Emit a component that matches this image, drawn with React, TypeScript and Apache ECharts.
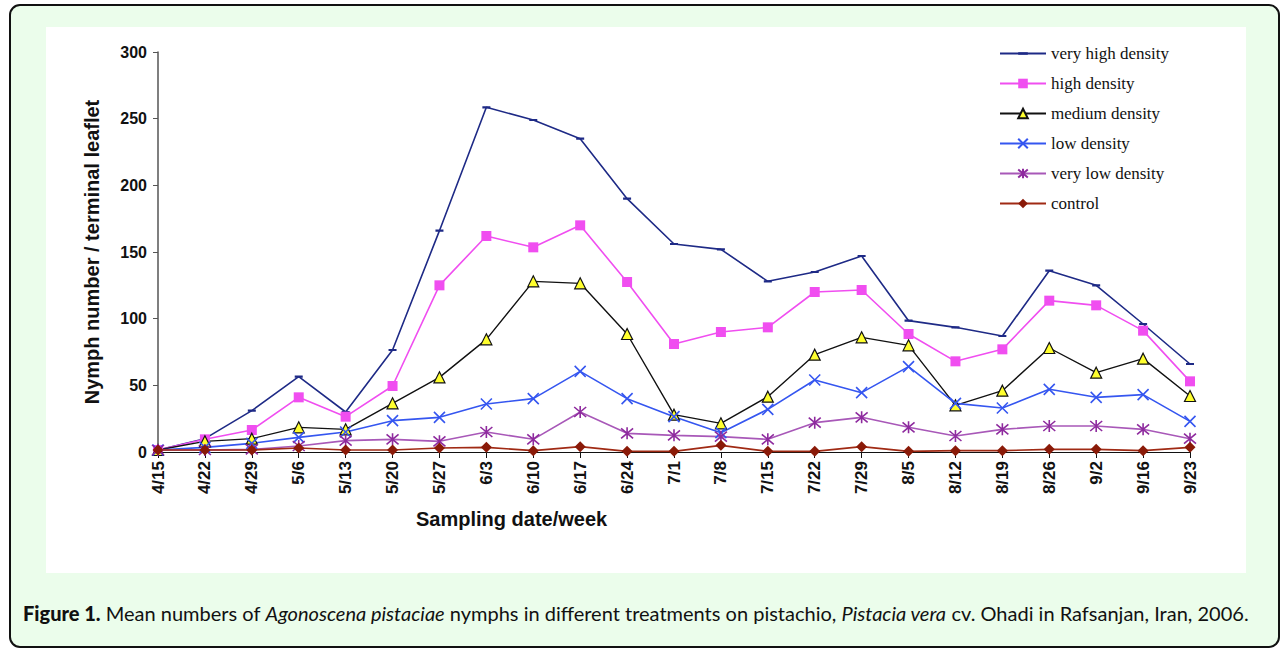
import React, { useEffect, useRef } from "react";
import * as echarts from "echarts";

const dates = ["4/15","4/22","4/29","5/6","5/13","5/20","5/27","6/3","6/10","6/17","6/24","7/1","7/8","7/15","7/22","7/29","8/5","8/12","8/19","8/26","9/2","9/16","9/23"];
const seriesNames = ["very high density","high density","medium density","low density","very low density","control"];
const veryHigh = [1.5, 10, 31, 56.5, 30, 76.5, 166, 258.5, 249, 235, 190, 156, 152, 128, 135, 147, 98.5, 93.5, 87, 136, 125, 96, 66];
const high = [1.5, 9.5, 16.5, 41, 26.5, 49.5, 125, 162, 153.5, 170, 127.5, 81, 90, 93.5, 120, 121.5, 88.5, 68, 77, 113.5, 110, 91, 53];
const medium = [1.5, 8, 10, 18.5, 17, 36.5, 56, 84.5, 128, 126.5, 88.5, 28, 21.5, 41.5, 73, 86, 80, 35, 46, 78, 59.5, 70, 42];
const low = [1.5, 3.5, 6.5, 11, 15, 23.5, 26, 36, 40, 60.5, 40, 26.5, 14.5, 32, 54, 44.5, 64, 36.5, 33, 47, 41, 43, 23];
const veryLow = [1.5, 1.5, 2, 4.5, 8.5, 9.5, 8, 15, 9.5, 30, 14, 12.5, 11.5, 9.5, 22, 26, 18.5, 12, 17, 19.5, 19.5, 17, 10];
const control = [1.5, 1.5, 1.5, 3, 1.5, 1.5, 3, 3.5, 1, 4, 0.5, 0.5, 5, 0.5, 0.5, 4, 0.5, 1, 1, 2, 2, 1, 3.5];
const yTicks = [0, 50, 100, 150, 200, 250, 300];

const SANS = "'Liberation Sans', Arial, sans-serif";
const SERIF = "'Liberation Serif', 'Times New Roman', serif";
const CAP = "Lato, 'Open Sans', sans-serif";

const DASH = "path://M0,0L0.01,0M0,3.6h10v2.8h-10zM10,10L9.99,10";
const CROSS = "path://M0,0L10,10M10,0L0,10";
const STAR = "path://M0,0L10,10M10,0L0,10M5,-1L5,11";

export default function App() {
  const ref = useRef<HTMLDivElement>(null);
  useEffect(() => {
    if (!ref.current) return;
    const chart = echarts.init(ref.current, undefined, { renderer: "svg" });
    const base = { type: "line", animation: false, smooth: false };
    chart.setOption({
      animation: false,
      backgroundColor: "#ffffff",
      grid: { left: 158, right: 91, top: 52, bottom: 198, containLabel: false },
      legend: {
        orient: "vertical",
        left: 994,
        top: 40,
        itemWidth: 46,
        itemHeight: 12,
        itemGap: 13,
        data: seriesNames,
        textStyle: { fontFamily: SERIF, fontSize: 17, color: "#111" },
      },
      xAxis: {
        type: "category",
        data: dates,
        boundaryGap: false,
        axisLine: { show: true, lineStyle: { color: "#111", width: 1.2 } },
        axisTick: { show: true, length: 6, interval: 0, lineStyle: { color: "#111" } },
        axisLabel: {
          interval: 0,
          rotate: 90,
          margin: 9,
          fontFamily: SANS,
          fontWeight: "bold",
          fontSize: 17,
          color: "#111",
        },
      },
      yAxis: {
        type: "value",
        min: yTicks[0],
        max: yTicks[yTicks.length - 1],
        interval: 50,
        name: "Nymph number / terminal leaflet",
        nameLocation: "middle",
        nameGap: 56,
        nameTextStyle: { fontFamily: SANS, fontWeight: "bold", fontSize: 20, color: "#111" },
        axisLine: { show: true, lineStyle: { color: "#555", width: 1.5 } },
        axisTick: { show: true, length: 5, lineStyle: { color: "#555" } },
        splitLine: { show: false },
        axisLabel: { margin: 11, fontFamily: SANS, fontWeight: "bold", fontSize: 16, color: "#111" },
      },
      graphic: [
        {
          type: "rect", z: -10, silent: true,
          shape: { x: 10, y: 5, width: 1269, height: 642, r: 10 },
          style: { fill: "#ebfdeb", stroke: "#111", lineWidth: 2 },
        },
        {
          type: "rect", z: -9, silent: true,
          shape: { x: 46, y: 27, width: 1200, height: 546 },
          style: { fill: "#ffffff" },
        },
        {
          type: "text", left: 416, top: 509,
          style: { text: "Sampling date/week", fontFamily: SANS, fontWeight: "bold", fontSize: 20, fill: "#111" },
        },
        {
          type: "text", left: 23, top: 603,
          style: {
            text: "{b|Figure 1.}{r| Mean numbers of }{i|Agonoscena pistaciae}{r| nymphs in different treatments on pistachio, }{i|Pistacia vera}{r| cv. Ohadi in Rafsanjan, Iran, 2006.}",
            fill: "#111",
            rich: {
              b: { fontFamily: CAP, fontWeight: 900, fontSize: 20, fill: "#111" },
              r: { fontFamily: CAP, fontSize: 20, fill: "#111" },
              i: { fontFamily: CAP, fontStyle: "italic", fontSize: 20, fill: "#111" },
            },
          },
        },
      ],
      series: [
        {
          ...base, name: seriesNames[0], data: veryHigh,
          symbol: DASH, symbolSize: 8,
          itemStyle: { color: "#1e2a86" },
          lineStyle: { color: "#1e2a86", width: 1.6 },
        },
        {
          ...base, name: seriesNames[1], data: high,
          symbol: "rect", symbolSize: 10,
          itemStyle: { color: "#f04ef0" },
          lineStyle: { color: "#f04ef0", width: 1.6 },
        },
        {
          ...base, name: seriesNames[2], data: medium,
          symbol: "triangle", symbolSize: 11,
          itemStyle: { color: "#ffff2e", borderColor: "#111", borderWidth: 1.2 },
          lineStyle: { color: "#111", width: 1.4 },
        },
        {
          ...base, name: seriesNames[3], data: low,
          symbol: CROSS, symbolSize: 11,
          itemStyle: { color: "#3556f0", borderColor: "#3556f0", borderWidth: 1.6 },
          lineStyle: { color: "#3556f0", width: 1.6 },
        },
        {
          ...base, name: seriesNames[4], data: veryLow,
          symbol: STAR, symbolSize: 12,
          itemStyle: { color: "#8e2a9e", borderColor: "#8e2a9e", borderWidth: 1.6 },
          lineStyle: { color: "#a858b8", width: 1.6 },
        },
        {
          ...base, name: seriesNames[5], data: control,
          symbol: "diamond", symbolSize: 11,
          itemStyle: { color: "#8a1a08" },
          lineStyle: { color: "#a02a14", width: 1.6 },
        },
      ],
    });
    return () => chart.dispose();
  }, []);
  return (
    <div
      ref={ref}
      style={{ position: "fixed", left: 0, top: 0, width: 1281, height: 650 }}
    />
  );
}
